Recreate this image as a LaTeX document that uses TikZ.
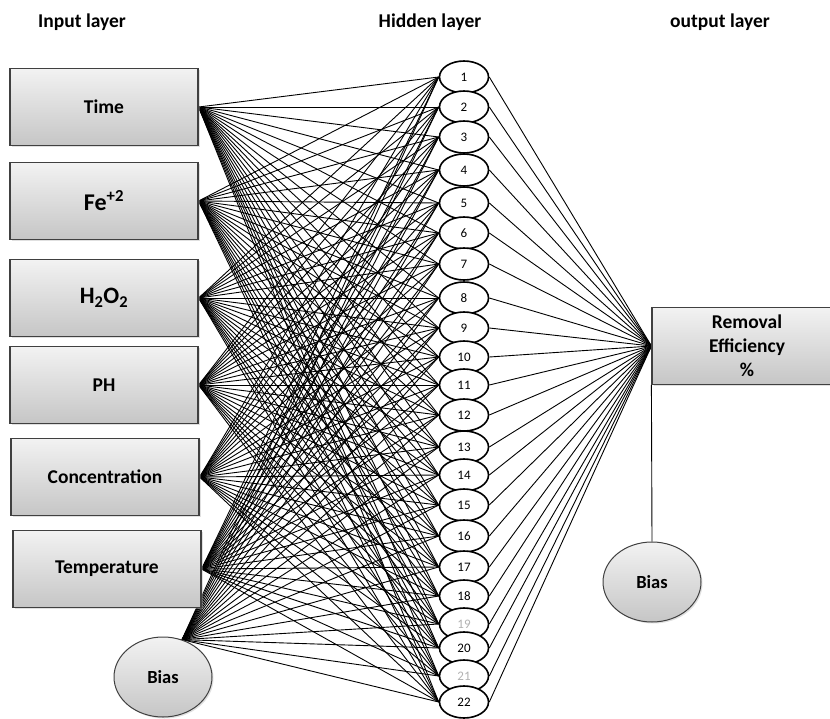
\documentclass[tikz,border=0pt]{standalone}
\usepackage{fontspec}
\setmainfont{Carlito}
\usetikzlibrary{shapes.geometric,shadows,backgrounds}

\begin{document}
\begin{tikzpicture}[x=1pt,y=-1pt]
  \tikzset{layer title/.style={font=\bfseries\fontsize{19.5}{22}\selectfont}}
  \tikzset{input box/.style={draw=black!75,line width=1.2pt,minimum width=188pt,minimum height=77pt,top color=gray!10,bottom color=gray!45,drop shadow={shadow xshift=1.5pt,shadow yshift=-1.5pt,fill=gray!60,opacity=.4},font=\bfseries\fontsize{19.5}{24}\selectfont,align=center}}
  \tikzset{bias node/.style={ellipse,draw=black!75,line width=1pt,minimum width=98pt,minimum height=80pt,top color=gray!10,bottom color=gray!45,drop shadow={shadow xshift=1.5pt,shadow yshift=-1.5pt,fill=gray!60,opacity=.4},font=\bfseries\fontsize{18.5}{20}\selectfont}}
  \tikzset{hidden node/.style={ellipse,draw,line width=1.6pt,fill=white,minimum width=49pt,minimum height=32pt,inner sep=0pt,font=\fontsize{13}{14}\selectfont}}
  \tikzset{link/.style={line width=0.9pt}}
  \useasboundingbox (0,0) rectangle (830,718);
  % titles
  \node[layer title] (tin) at (82,22) {Input layer};
  \node[layer title] (thid) at (430,22) {Hidden layer};
  \node[layer title] (tout) at (720,22) {output layer};
  % inputs
  \node[input box] (time) at (104,107) {Time};
  \node[input box,font=\bfseries\fontsize{24}{26}\selectfont] (fe) at (104,201) {Fe\textsuperscript{+2}};
  \node[input box,font=\bfseries\fontsize{23.5}{26}\selectfont] (hoo) at (104,298) {H\textsubscript{2}O\textsubscript{2}};
  \node[input box] (ph) at (104,385) {PH};
  \node[input box] (conc) at (105,477) {Concentration};
  \node[input box] (temp) at (107,569) {Temperature};
  \node[bias node] (bi) at (163,677) {Bias};
  % hidden layer
  \foreach \n/\y/\c in {1/77/black,2/107/black,3/137/black,4/170/black,5/203/black,6/233/black,7/264/black,8/298/black,9/328/black,10/357/black,11/385/black,12/415/black,13/447/black,14/475/black,15/505/black,16/536/black,17/567/black,18/596/black,19/624/gray!60,20/648/black,21/676/gray!60,22/702/black}
    \node[hidden node,text=\c] (h\n) at (464,\y) {\n};
  % output
  \node[input box,minimum width=190pt] (out) at (747,346) {Removal\\Efficiency\\\%};
  \node[bias node] (ob) at (652,582) {Bias};
  \draw[link] (out.south west) -- (ob.north);
  % connections
  \begin{scope}[on background layer]
    \foreach \i in {time,fe,hoo,ph,conc,temp}
      \foreach \j in {1,...,22}
        \draw[link] (\i.east) -- (h\j.west);
    \foreach \j in {1,...,22}{
      \draw[link] (bi.63) -- (h\j.west);
      \draw[link] (h\j.east) -- (out.west);
    }
  \end{scope}
\end{tikzpicture}
\end{document}
